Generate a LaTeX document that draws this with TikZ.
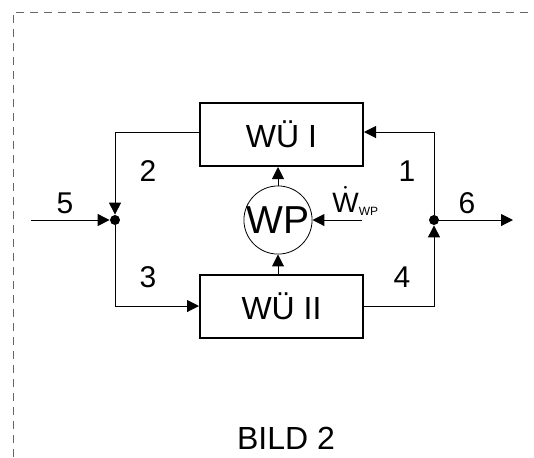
\documentclass[tikz,border=0pt]{standalone}
\usepackage{fontspec}
\setmainfont{Liberation Sans}
\usetikzlibrary{arrows.meta,positioning}
\begin{document}
\begin{tikzpicture}[x=0.5pt,y=-0.5pt,
      unit/.style={rectangle,draw,line width=1pt,minimum width=81.5pt,
                   minimum height=31.5pt,inner sep=0pt,
                   font=\fontsize{16}{18}\selectfont},
      pump/.style={circle,draw,line width=0.4pt,minimum size=28.5pt,
                   inner sep=0pt,font=\fontsize{19.5}{21}\selectfont},
      junct/.style={circle,fill,minimum size=5pt,inner sep=0pt},
      flow/.style={-{Triangle[length=6pt,width=6pt]},line width=0.5pt},
      lbl/.style={font=\fontsize{15}{17}\selectfont,inner sep=0pt},
      frame/.style={dash pattern=on 4pt off 3pt,line width=0.5pt,black!60},
    ]
    \useasboundingbox (0,0) rectangle (534,457);

    % system border
    \draw[frame] (13,457) -- (13,12) -- (534,12);

    \node[unit]  (wu1)  at (281.5,134.5) {WÜ I};
    \node[unit]  (wu2)  at (281.5,306)   {WÜ II};
    \node[pump]  (wp)   at (278,220)     {WP};
    \node[junct] (jl)   at (115,220)     {};
    \node[junct] (jr)   at (434,220)     {};
    \coordinate  (in5)  at (31,220);
    \coordinate  (out6) at (513,220);
    \coordinate  (win)  at (362,220);

    \draw[flow] ([yshift=1.25pt]wu1.west) -| (jl);
    \draw[flow] (in5) -- (jl);
    \draw[flow] (jl) |- (wu2.west);
    \draw[flow] (wu2.east) -| (jr);
    \draw[flow] (jr) |- ([yshift=1.25pt]wu1.east);
    \draw[flow] (jr) -- (out6);
    \draw[flow] (wu2.north -| wp) -- (wp);
    \draw[flow] (wp) -- (wu1.south -| wp);
    \draw[flow] (win) -- (wp);

    \node[lbl] (l2) at (148,171) {2};
    \node[lbl] (l1) at (407,171) {1};
    \node[lbl] (l5) at (65,203)  {5};
    \node[lbl] (l6) at (467,203) {6};
    \node[lbl] (l3) at (148,277) {3};
    \node[lbl] (l4) at (402,277) {4};
    \node[lbl,font=\fontsize{14}{16}\selectfont,anchor=base west] (wdot) at (332,212)
        {$\dot{\hbox{W}}$\raisebox{-1.5pt}{\fontsize{6}{7}\selectfont WP}};

    \node[font=\fontsize{16}{18}\selectfont,inner sep=0pt] (cap) at (286,438) {BILD 2};
  \end{tikzpicture}
\end{document}
